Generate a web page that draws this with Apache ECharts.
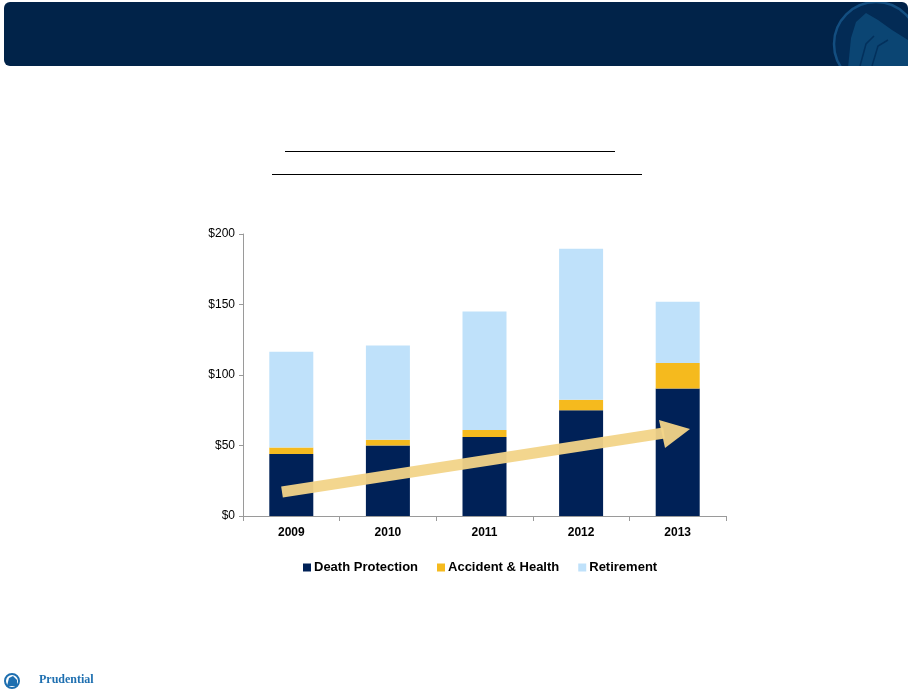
<!DOCTYPE html>
<html>
<head>
<meta charset="utf-8">
<script src="https://cdn.jsdelivr.net/npm/echarts@6/dist/echarts.min.js"></script>
<style>
  html, body { margin: 0; padding: 0; background: #fff; }
  #chart { width: 910px; height: 693px; }
</style>
</head>
<body>
<div id="chart"></div>
<script>
// chart data
var years = ['2009', '2010', '2011', '2012', '2013'];
var deathProtection = [44, 50, 56, 75, 90.5];
var accidentHealth = [4.5, 4, 5, 7.5, 18];
var retirement = [68, 67, 84, 107, 43.5];
var yTicks = [0, 50, 100, 150, 200];

var navy = '#002157';
var gold = '#F5BA1E';
var sky = '#BFE1FA';
var arrowColor = '#F2D488';

var myChart = echarts.init(document.getElementById('chart'));

function barSeries(name, data, color) {
    return {
        name: name,
        type: 'bar',
        stack: 'total',
        barWidth: 44,
        data: data,
        itemStyle: { color: color },
        emphasis: { disabled: true }
    };
}

var option = {
    backgroundColor: '#fff',
    animation: false,
    textStyle: { fontFamily: 'Liberation Sans, Arial, sans-serif' },
    grid: { left: 243, top: 234, width: 483, height: 282 },
    legend: {
        bottom: 114,
        left: 298,
        itemWidth: 8,
        itemHeight: 8,
        itemGap: 19,
        icon: 'rect',
        textStyle: { fontSize: 13, fontWeight: 'bold', color: '#000', padding: [0, 0, 0, -2] },
        data: ['Death Protection', 'Accident & Health', 'Retirement']
    },
    xAxis: {
        type: 'category',
        data: years,
        axisLine: { lineStyle: { color: '#9a9a9a' } },
        axisTick: { show: true, length: 5, lineStyle: { color: '#9a9a9a' } },
        axisLabel: { fontSize: 12, fontWeight: 'bold', color: '#000', margin: 11 }
    },
    yAxis: {
        type: 'value',
        min: yTicks[0],
        max: yTicks[yTicks.length - 1],
        interval: 50,
        splitLine: { show: false },
        axisLine: { show: true, lineStyle: { color: '#9a9a9a' } },
        axisTick: { show: true, length: 4, lineStyle: { color: '#9a9a9a' } },
        axisLabel: { fontSize: 12, color: '#000', margin: 8, formatter: function (v) { return '$' + v; } }
    },
    series: [
        barSeries('Death Protection', deathProtection, navy),
        barSeries('Accident & Health', accidentHealth, gold),
        barSeries('Retirement', retirement, sky)
    ],
    graphic: [
        // header band
        { type: 'rect', z: 1, shape: { x: 4, y: 2, width: 904, height: 64, r: 6 }, style: { fill: '#012349' } },
        // logo watermark in header
        { type: 'circle', z: 2, shape: { cx: 876, cy: 44, r: 42 }, style: { fill: '#032B55', stroke: '#134E80', lineWidth: 2.5 } },
        { type: 'polygon', z: 3, shape: { points: [[848, 68], [851, 38], [856, 22], [866, 13], [878, 20], [892, 30], [908, 40], [908, 68]] }, style: { fill: '#0B4573' } },
        { type: 'polyline', z: 4, shape: { points: [[860, 66], [866, 44], [874, 36]] }, style: { stroke: '#03305C', lineWidth: 1.5, fill: 'none' } },
        { type: 'polyline', z: 4, shape: { points: [[872, 66], [878, 46], [888, 40]] }, style: { stroke: '#03305C', lineWidth: 1.5, fill: 'none' } },
        // white mask outside the rounded band
        { type: 'rect', z: 5, shape: { x: 0, y: 66, width: 910, height: 40 }, style: { fill: '#fff' } },
        { type: 'rect', z: 5, shape: { x: 908, y: 0, width: 10, height: 80 }, style: { fill: '#fff' } },
        { type: 'rect', z: 5, shape: { x: 820, y: 0, width: 95, height: 2 }, style: { fill: '#fff' } },
        // title underlines
        { type: 'line', z: 5, shape: { x1: 285, y1: 151.5, x2: 615, y2: 151.5 }, style: { stroke: '#000', lineWidth: 1 } },
        { type: 'line', z: 5, shape: { x1: 272, y1: 174.5, x2: 642, y2: 174.5 }, style: { stroke: '#000', lineWidth: 1 } },
        // growth arrow
        { type: 'line', z: 100, shape: { x1: 282, y1: 492, x2: 664, y2: 433 }, style: { stroke: arrowColor, lineWidth: 11, opacity: 0.95 } },
        { type: 'polygon', z: 100, shape: { points: [[659, 420], [690, 429], [665, 448]] }, style: { fill: arrowColor, opacity: 0.95 } },
        // footer logo
        { type: 'circle', z: 5, shape: { cx: 12, cy: 681, r: 7 }, style: { fill: '#fff', stroke: '#1E6FB0', lineWidth: 2 } },
        { type: 'polygon', z: 6, shape: { points: [[7, 686], [9, 678], [13, 676], [17, 680], [17, 686]] }, style: { fill: '#1E6FB0' } },
        { type: 'text', z: 5, left: 39, top: 674, style: { text: 'Prudential', font: 'bold 12px "Liberation Serif", serif', fill: '#1E6FB0' } }
    ]
};

myChart.setOption(option);
</script>
</body>
</html>
